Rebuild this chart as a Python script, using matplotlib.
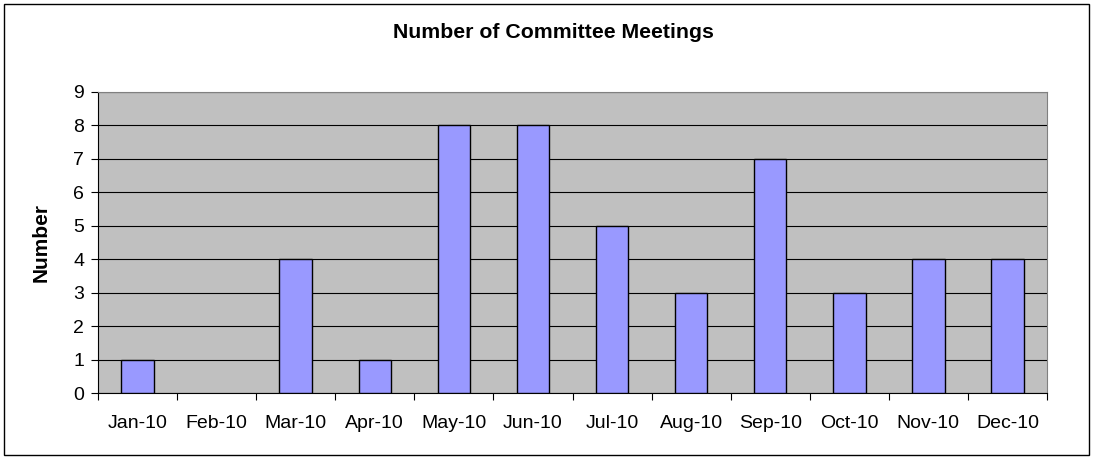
import matplotlib.pyplot as plt
import numpy as np
from matplotlib.patches import Rectangle

plt.rcParams['font.family'] = ['Liberation Sans', 'DejaVu Sans']

months = ['Jan-10', 'Feb-10', 'Mar-10', 'Apr-10', 'May-10', 'Jun-10',
          'Jul-10', 'Aug-10', 'Sep-10', 'Oct-10', 'Nov-10', 'Dec-10']
meetings = [1, 0, 4, 1, 8, 8, 5, 3, 7, 3, 4, 4]

W, H = 1093, 459
fig = plt.figure(figsize=(W / 100, H / 100), dpi=100)
fig.patches.append(Rectangle((4 / W, 4 / H), (W - 8) / W, (H - 8) / H,
                             transform=fig.transFigure, fill=False,
                             edgecolor='black', linewidth=1.0))

left, right, top, bottom = 98, 1047, 92, 393
ax = fig.add_axes([left / W, 1 - bottom / H, (right - left) / W, (bottom - top) / H])
ax.set_facecolor('#C0C0C0')

x = np.arange(len(months))
# zero bars get no outline, like the original
lw = [0 if v == 0 else 1.0 for v in meetings]
ax.bar(x, meetings, width=0.41, color='#9999FF', edgecolor='black', linewidth=lw, zorder=3)

ax.set_xlim(-0.5, len(months) - 0.5)
ax.set_ylim(0, 9)
ax.set_yticks(range(10))
ax.yaxis.grid(True, color='black', linewidth=0.8, zorder=0)
ax.set_axisbelow(True)

ax.set_xticks(np.arange(-0.5, len(months), 1.0))
ax.set_xticklabels([])
ax.set_xticks(x, minor=True)
ax.set_xticklabels(months, minor=True)
ax.tick_params(axis='x', which='major', length=5, direction='out', color='black')
ax.tick_params(axis='x', which='minor', length=0, pad=15.5, labelsize=14)
ax.tick_params(axis='y', length=5, direction='out', labelsize=14, pad=5)

for s in ['top', 'right']:
    ax.spines[s].set_color('#808080')
for s in ['left', 'bottom']:
    ax.spines[s].set_color('black')

fig.text(41 / W, 1 - 243 / H, 'Number', rotation=90, ha='center', va='center',
         fontsize=15, fontweight='bold')
fig.text(553 / W, 1 - 33 / H, 'Number of Committee Meetings',
         ha='center', va='center', fontsize=15.3, fontweight='bold')

fig.savefig('out.png', dpi=100)
